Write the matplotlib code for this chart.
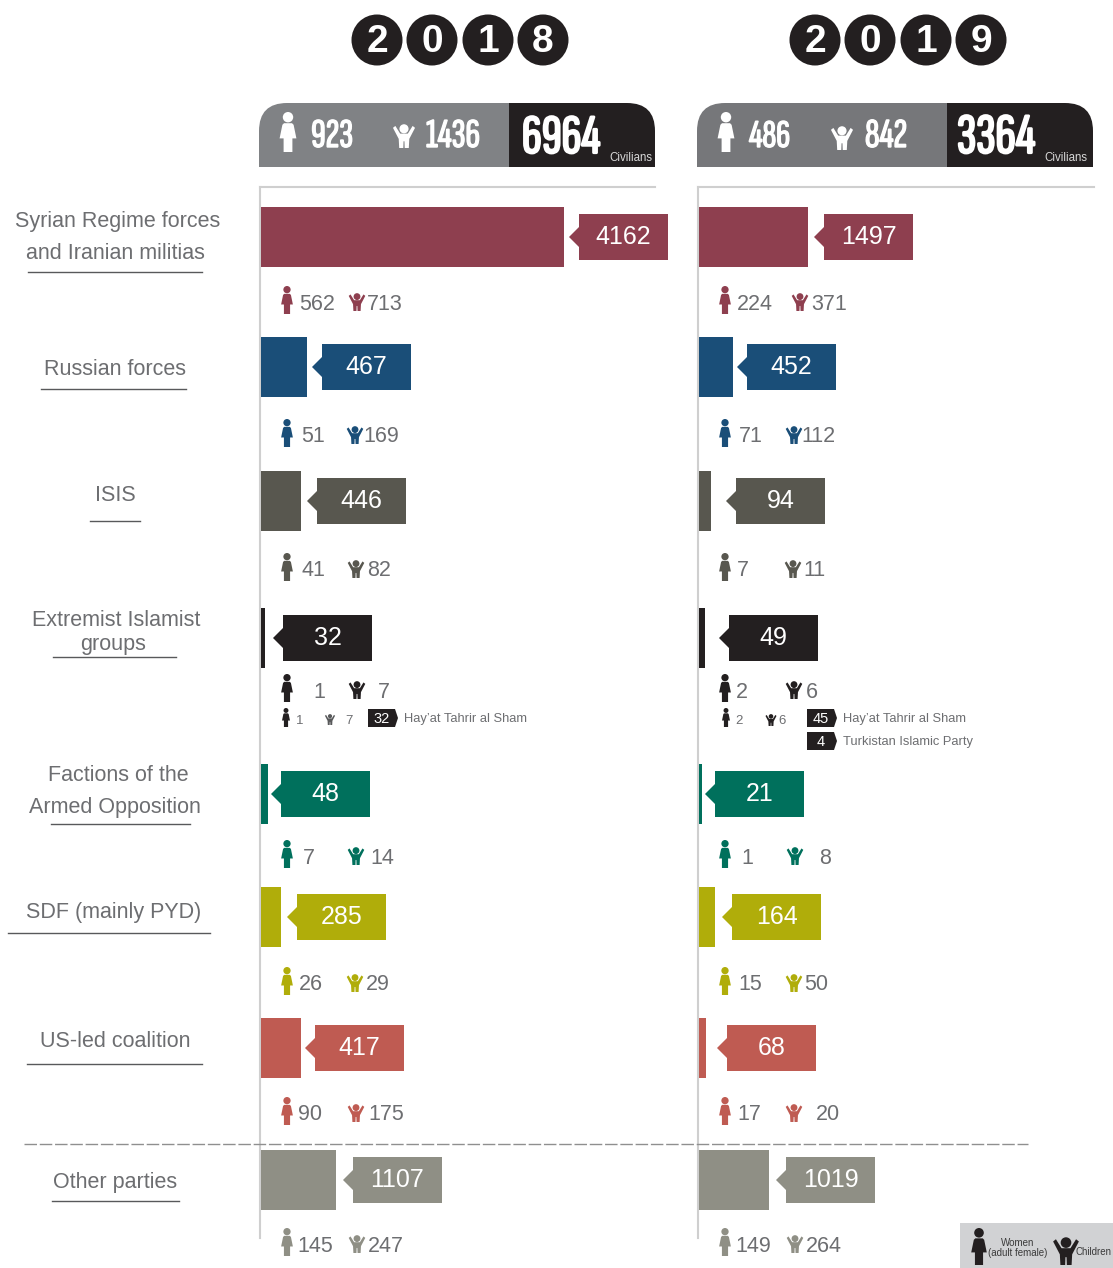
import matplotlib
matplotlib.use('Agg')
import matplotlib.pyplot as plt
import matplotlib.patheffects as pe
from matplotlib import font_manager as fm
from matplotlib.patches import Circle, Polygon, PathPatch, Rectangle
from matplotlib.path import Path

plt.rcParams['font.family'] = ['Liberation Sans', 'DejaVu Sans']

# Data
parties = ['Syrian Regime forces\nand Iranian militias', 'Russian forces', 'ISIS',
           'Extremist Islamist\ngroups', 'Factions of the\nArmed Opposition',
           'SDF (mainly PYD)', 'US-led coalition', 'Other parties']
deaths_2018 = [4162, 467, 446, 32, 48, 285, 417, 1107]
deaths_2019 = [1497, 452, 94, 49, 21, 164, 68, 1019]
women_2018 = [562, 51, 41, 1, 7, 26, 90, 145]
women_2019 = [224, 71, 7, 2, 1, 15, 17, 149]
children_2018 = [713, 169, 82, 7, 14, 29, 175, 247]
children_2019 = [371, 112, 11, 6, 8, 50, 20, 264]
# bar lengths as drawn in the picture (not quite proportional to the totals)
bar_len_2018 = [303, 46, 40, 4, 7, 20, 40, 75]
bar_len_2019 = [109, 34, 12, 6, 3, 16, 7, 70]
party_colors = ['#8e3f4f', '#1a4e78', '#58574f', '#231f20', '#00705c', '#b0ad0a', '#bf5b52', '#8f8f85']

# Layout, in pixels of the picture
row_y = [237, 367, 501, 638, 794, 917, 1048, 1180]
stat_y = [302, 435, 569, 690, 856, 983, 1113, 1244]
tip_2018 = [569, 312, 307, 273, 271, 287, 305, 343]
tip_2019 = [814, 737, 726, 719, 705, 722, 717, 776]
w_txt_2018 = [299, 301, 301, 313, 303, 299, 298, 297]
c_icon_2018 = [357, 355, 356, 357, 356, 355, 356, 357]
c_txt_2018 = [367, 363, 367, 378, 370, 366, 368, 368]
w_txt_2019 = [737, 739, 737, 736, 741, 738, 737, 735]
c_icon_2019 = [800, 794, 793, 794, 795, 794, 794, 795]
c_txt_2019 = [811, 801, 803, 806, 819, 804, 816, 806]
label_lines = [[(118, 220), (115, 252)], [(115, 368)], [(115, 494)], [(116, 619), (113, 643)],
               [(118, 774), (115, 806)], [(114, 911)], [(115, 1040)], [(115, 1181)]]
underlines = [(272, 28, 202), (389, 41, 186), (521, 90, 140), (657, 53, 176),
              (824, 51, 190), (933, 8, 210), (1064, 27, 202), (1201, 52, 179)]

TXT = '#6d6e71'
fig = plt.figure(figsize=(11.13, 12.68), dpi=100)
ax = fig.add_axes([0, 0, 1, 1])
ax.set_xlim(0, 1113)
ax.set_ylim(1268, 0)
ax.axis('off')

# condensed face for the header numbers, whichever is there
have = {f.name for f in fm.fontManager.ttflist}
narrow = next((n for n in ['Sofia Sans Extra Condensed', 'Antonio', 'League Gothic', 'Barlow Condensed']
               if n in have), 'Liberation Sans')


def woman(x, top, h, color):
    ax.add_patch(Circle((x, top + 0.13 * h), 0.13 * h, fc=color, ec='none', zorder=5))
    pts = [(-.10, .28), (.10, .28), (.14, .32), (.21, .66), (.11, .66), (.11, 1),
           (-.11, 1), (-.11, .66), (-.21, .66), (-.14, .32)]
    ax.add_patch(Polygon([(x + a * h, top + b * h) for a, b in pts], fc=color, ec='none', zorder=5))


def child(x, top, h, color):
    ax.add_patch(Circle((x, top + 0.2 * h), 0.19 * h, fc=color, ec='none', zorder=5))
    pts = [(-.46, .16), (-.36, .08), (-.16, .40), (.16, .40), (.36, .08), (.46, .16), (.22, .62), (.20, 1),
           (.03, 1), (.02, .72), (-.02, .72), (-.03, 1), (-.20, 1), (-.22, .62)]
    ax.add_patch(Polygon([(x + a * h, top + b * h) for a, b in pts], fc=color, ec='none', zorder=5))


def tag(x0, x1, y0, y1, text):
    ax.add_patch(Polygon([(x0, y0), (x1 - 3, y0), (x1, (y0 + y1) / 2), (x1 - 3, y1), (x0, y1)],
                         fc='#231f20', ec='none', zorder=4))
    ax.text((x0 + x1) / 2 - 1, (y0 + y1) / 2 + 1, text, color='white', fontsize=10.5, ha='center', va='center',
            zorder=6)


def header(x0, split, x1, y0, y1, gray):
    r = 28
    left = Path([(split, y1), (x0, y1), (x0, y0 + r), (x0, y0), (x0 + r, y0), (split, y0), (split, y1)],
                [Path.MOVETO, Path.LINETO, Path.LINETO, Path.CURVE3, Path.CURVE3, Path.LINETO, Path.CLOSEPOLY])
    right = Path([(split, y0), (x1 - r, y0), (x1, y0), (x1, y0 + r), (x1, y1), (split, y1), (split, y0)],
                 [Path.MOVETO, Path.LINETO, Path.CURVE3, Path.CURVE3, Path.LINETO, Path.LINETO, Path.CLOSEPOLY])
    ax.add_patch(PathPatch(left, fc=gray, ec='none'))
    ax.add_patch(PathPatch(right, fc='#231f20', ec='none'))


def panel(x0, x1, deaths, bars, tips, women, w_txt, children, c_icon, c_txt, w_icon):
    ax.plot([x0, x1], [187, 187], color='#cfcfcf', lw=1.5, zorder=1)
    ax.plot([x0, x0], [187, 1238], color='#cfcfcf', lw=1.5, zorder=1)
    ax.barh(row_y, bars, left=x0 + 1, height=60, color=party_colors, zorder=3)
    for i, d in enumerate(deaths):
        tip, y = tips[i], row_y[i]
        col = party_colors[i]
        ax.add_patch(Polygon([(tip, y), (tip + 10, y - 10), (tip + 10, y - 23), (tip + 99, y - 23),
                              (tip + 99, y + 23), (tip + 10, y + 23), (tip + 10, y + 10)],
                             fc=col, ec='none', zorder=3))
        ax.text(tip + 54.5, y, str(d), color='white', fontsize=18, ha='center', va='center', zorder=6)
        sy = stat_y[i]
        woman(w_icon, sy - 16, 28, col)
        child(c_icon[i], sy - 9, 18, col)
        ax.text(w_txt[i], sy + 2, str(women[i]), color=TXT, fontsize=15.5, ha='left', va='center')
        ax.text(c_txt[i], sy + 2, str(children[i]), color=TXT, fontsize=15.5, ha='left', va='center')


# Year badges
for cx, ch in zip([377, 432, 488, 543, 815, 870, 926, 981], '20182019'):
    ax.add_patch(Circle((cx, 40), 25.5, fc='#231f20', ec='none'))
    ax.text(cx, 42, ch, color='white', fontsize=28, fontweight='bold', ha='center', va='center')

# Header bands
header(259, 509, 655, 103, 167, '#808285')
header(697, 947, 1093, 103, 167, '#76777a')
woman(288, 112, 40, 'white')
child(404, 124, 24, 'white')
woman(726, 112, 40, 'white')
child(842, 126, 24, 'white')
renderer = fig.canvas.get_renderer()
for x, base, width, s, grow in [(311, 147, 42, '923', 1.0), (426, 147, 54, '1436', 1.0), (749, 147, 41, '486', 1.0),
                                (865, 147, 42, '842', 1.0), (522, 153, 78, '6964', 1.6), (957, 153, 78, '3364', 1.6)]:
    t = ax.text(x, base, s, color='white', fontsize=30, fontweight='bold', family=narrow, ha='left', va='baseline')
    t.set_fontsize(30 * width / t.get_window_extent(renderer).width)
    # the condensed face has no real bold here, thicken it with a stroke
    t.set_path_effects([pe.withStroke(linewidth=grow, foreground='white')])
ax.text(652, 158, 'Civilians', color='#d8d8d8', fontsize=8.3, ha='right', va='center')
ax.text(1087, 158, 'Civilians', color='#d8d8d8', fontsize=8.3, ha='right', va='center')

# Panels
panel(260, 655, deaths_2018, bar_len_2018, tip_2018, women_2018, w_txt_2018,
      children_2018, c_icon_2018, c_txt_2018, 287)
panel(698, 1094, deaths_2019, bar_len_2019, tip_2019, women_2019, w_txt_2019,
      children_2019, c_icon_2019, c_txt_2019, 725)

# Party labels
for name, pos, (uy, ux0, ux1) in zip(parties, label_lines, underlines):
    for line, (x, y) in zip(name.split('\n'), pos):
        ax.text(x, y + 1.5, line, color=TXT, fontsize=15.5, ha='center', va='center')
    ax.plot([ux0, ux1], [uy, uy], color='#58595b', lw=1)

# Extremist groups breakdown
woman(286, 708, 19, '#231f20')
child(330, 714, 11, '#58595b')
woman(726, 708, 19, '#231f20')
child(771, 714, 12, '#231f20')
for x, s in [(296, '1'), (345, '7'), (735, '2'), (778, '6')]:
    ax.text(x, 721, s, color=TXT, fontsize=9.5, ha='left', va='center')
tag(368, 398, 709, 727, '32')
tag(807, 837, 709, 727, '45')
tag(807, 837, 732, 750, '4')
for x, y, s in [(404, 719, 'Hay\u2019at Tahrir al Sham'), (843, 719, 'Hay\u2019at Tahrir al Sham'),
                (843, 742, 'Turkistan Islamic Party')]:
    ax.text(x, y, s, color=TXT, fontsize=9.3, ha='left', va='center')

# Dashed separator
ax.plot([24, 1028], [1144, 1144], color='#8f8f8f', lw=1, dashes=(9, 2), zorder=2)

# Key
ax.add_patch(Rectangle((960, 1223), 153, 45, fc='#d1d2d4', ec='none', zorder=4))
woman(979, 1228, 37, '#231f20')
child(1066, 1237, 28, '#231f20')
ax.text(1018, 1248, 'Women\n(adult female)', color='#3a3a3a', fontsize=7, ha='center', va='center',
        linespacing=1.05, zorder=6)
ax.text(1076, 1252, 'Children', color='#3a3a3a', fontsize=7, ha='left', va='center', zorder=6)

fig.savefig('out.png', dpi=100, facecolor='white')
